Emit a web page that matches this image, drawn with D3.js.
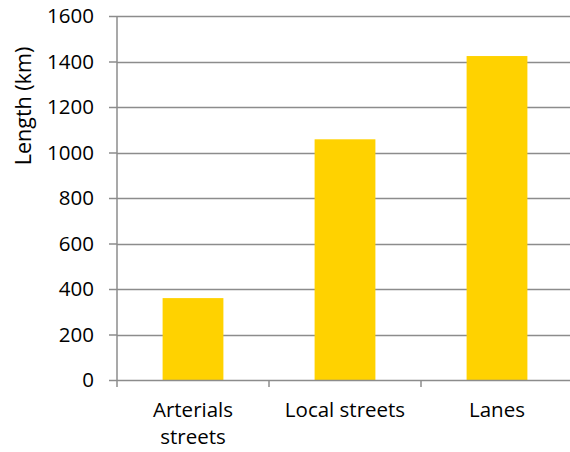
<!DOCTYPE html>
<html><head><meta charset="utf-8">
<script src="https://cdn.jsdelivr.net/npm/d3@7"></script>
<style>body{margin:0;background:#fff;} svg{display:block;font-family:"Open Sans",sans-serif;}</style>
</head><body>
<script>
const categories = [["Arterials","streets"],["Local streets"],["Lanes"]];
const values = [360, 1058, 1424];
const yTicks = [0,200,400,600,800,1000,1200,1400,1600];
const yLabel = "Length (km)";

const W=570,H=452;
const svg=d3.select("body").append("svg").attr("width",W).attr("height",H);
const x0=117, x1=573, yTop=16, yBot=380;
const x=d3.scaleBand().domain(d3.range(categories.length)).range([x0,x1]).paddingInner(0.6).paddingOuter(0.3);
const y=d3.scaleLinear().domain([0,1600]).range([yBot,yTop]);
const grid="#8c8c8c";
const fs=20.5;

// gridlines
svg.append("g").selectAll("line").data(yTicks.filter(d=>d>0)).join("line")
 .attr("x1",x0).attr("x2",W).attr("y1",d=>Math.round(y(d))+0.5).attr("y2",d=>Math.round(y(d))+0.5)
 .attr("stroke",grid).attr("stroke-width",1.5);

// bars
svg.append("g").selectAll("rect").data(values).join("rect")
 .attr("x",(d,i)=>x(i)).attr("width",x.bandwidth())
 .attr("y",d=>y(d)).attr("height",d=>yBot-y(d))
 .attr("fill","#FFD200");

// y axis
const ya=svg.append("g").attr("transform",`translate(${x0},0)`)
 .call(d3.axisLeft(y).tickValues(yTicks).tickSize(8).tickPadding(15).tickFormat(d3.format("d")));
ya.select(".domain").attr("stroke",grid).attr("stroke-width",1.5).attr("d",`M0,${yTop}V${yBot}`);
ya.selectAll(".tick line").attr("stroke",grid).attr("stroke-width",1.5);
ya.attr("font-size",null).attr("font-family",null);
ya.selectAll(".tick text").style("font-size",fs+"px").attr("fill","#000");

// x axis
const step=x.step();
const xa=svg.append("g").attr("transform",`translate(0,${yBot})`);
xa.append("line").attr("x1",x0).attr("x2",W).attr("y1",0.5).attr("y2",0.5).attr("stroke",grid).attr("stroke-width",1.5);
xa.selectAll("line.t").data(d3.range(categories.length+1)).join("line").attr("class","t")
 .attr("x1",i=>x0+i*step).attr("x2",i=>x0+i*step).attr("y1",0).attr("y2",7)
 .attr("stroke",grid).attr("stroke-width",1.5);
const lab=xa.selectAll("text").data(categories).join("text")
 .attr("text-anchor","middle").style("font-size",fs+"px").attr("fill","#000")
 .attr("transform",(d,i)=>`translate(${x(i)+x.bandwidth()/2},37)`);
lab.selectAll("tspan").data(d=>d).join("tspan").attr("x",0).attr("dy",(d,j)=>j?27:0).text(d=>d);

// y label
svg.append("text").attr("transform","translate(31,106) rotate(-90)")
 .attr("text-anchor","middle").style("font-size",(fs+1)+"px").attr("fill","#000").text(yLabel);
</script>
</body></html>
